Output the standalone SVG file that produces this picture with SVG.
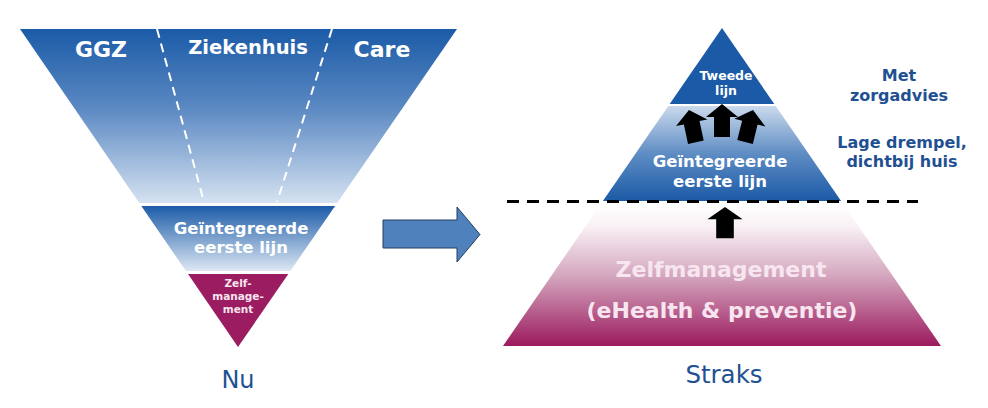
<svg xmlns="http://www.w3.org/2000/svg" width="988" height="408" viewBox="0 0 988 408">
<defs>
<linearGradient id="gUp" x1="0" y1="0" x2="0" y2="1">
<stop offset="0" stop-color="#1b5ba7"/>
<stop offset="0.45" stop-color="#5a88c2"/>
<stop offset="1" stop-color="#d5e2f1"/>
</linearGradient>
<linearGradient id="gMidL" x1="0" y1="0" x2="0" y2="1">
<stop offset="0" stop-color="#1c5ca8"/>
<stop offset="1" stop-color="#dde7f3"/>
</linearGradient>
<linearGradient id="gMidR" x1="0" y1="0" x2="0" y2="1">
<stop offset="0" stop-color="#cbdaec"/>
<stop offset="0.5" stop-color="#5f8dc4"/>
<stop offset="1" stop-color="#1b5aa6"/>
</linearGradient>
<linearGradient id="gBot" x1="0" y1="0" x2="0" y2="1">
<stop offset="0" stop-color="#ffffff"/>
<stop offset="0.15" stop-color="#f8f0f4"/>
<stop offset="0.5" stop-color="#d4a6be"/>
<stop offset="1" stop-color="#9b1a5e"/>
</linearGradient>
<path id="upArrow" d="M0,0 L16,13 L8,13 L8,33 L-8,33 L-8,13 L-16,13 Z"/>
<style>
.b{font-family:"DejaVu Sans",Verdana,sans-serif;font-weight:bold;text-anchor:middle}
.w{fill:#ffffff}
.blue{fill:#1f5192}
.lbl{font-family:"DejaVu Sans",Verdana,sans-serif;text-anchor:middle;fill:#1f5192}
.pk{fill:#f7e6ef}
.ar{fill:#000000}
</style>
</defs>
<rect width="988" height="408" fill="#ffffff"/>

<g id="nu-pyramid">
<g id="nu-top">
<polygon points="20,29 457,29 337.2,203 139.3,203" fill="url(#gUp)"/>
<line x1="157" y1="29" x2="204" y2="202" stroke="#ffffff" stroke-width="2" stroke-dasharray="9,6"/>
<line x1="332" y1="29" x2="277" y2="202" stroke="#ffffff" stroke-width="2" stroke-dasharray="9,6"/>
<text class="b w" x="101" y="57" font-size="22">GGZ</text>
<text class="b w" x="248" y="54" font-size="19.5">Ziekenhuis</text>
<text class="b w" x="382" y="57" font-size="22">Care</text>
</g>
<g id="nu-eerste-lijn">
<polygon points="141.3,206 335.1,206 290.3,271 185.9,271" fill="url(#gMidL)"/>
<text class="b w" x="241" y="234" font-size="16.5">Geïntegreerde</text>
<text class="b w" x="241" y="253" font-size="16.5">eerste lijn</text>
</g>
<g id="nu-zelfmanagement">
<polygon points="188,274 288.3,274 238,347" fill="#9c1c62"/>
<text class="b pk" x="238" y="287" font-size="10.5">Zelf-</text>
<text class="b pk" x="238" y="300" font-size="10.5">manage-</text>
<text class="b pk" x="238" y="313" font-size="10.5">ment</text>
</g>
<text id="nu-label" class="lbl" x="238" y="388" font-size="24">Nu</text>
</g>

<g id="transition-arrow">
<polygon points="383,220 457,220 457,207 480,234.5 457,262 457,248 383,248" fill="#4f81bd" stroke="#263f61" stroke-width="1"/>
</g>

<g id="straks-pyramid">
<g id="straks-zelfmanagement">
<polygon points="599.4,206 844.6,206 941,346 503,346" fill="url(#gBot)"/>
<text class="b pk" x="721" y="277" font-size="22">Zelfmanagement</text>
<text class="b pk" x="722" y="318" font-size="22">(eHealth &amp; preventie)</text>
</g>
<g id="straks-eerste-lijn">
<polygon points="668.3,106 775.7,106 841.1,201 602.9,201" fill="url(#gMidR)"/>
<text class="b w" x="720" y="167" font-size="16.5">Geïntegreerde</text>
<text class="b w" x="720" y="187" font-size="16.5">eerste lijn</text>
</g>
<g id="straks-tweede-lijn">
<polygon points="722,28 774.3,104 669.7,104" fill="#1b5aa6"/>
<text class="b w" x="726" y="80" font-size="12.5">Tweede</text>
<text class="b w" x="726" y="95" font-size="12.5">lijn</text>
</g>
<text id="straks-label" class="lbl" x="724" y="383" font-size="24.5">Straks</text>
</g>

<g id="side-labels">
<text class="b blue" x="899" y="81" font-size="16">Met</text>
<text class="b blue" x="899" y="101" font-size="16">zorgadvies</text>
<text class="b blue" x="902" y="148" font-size="16">Lage drempel,</text>
<text class="b blue" x="902" y="167" font-size="16">dichtbij huis</text>
</g>

<g id="connectors">
<line x1="507" y1="201.5" x2="918" y2="201.5" stroke="#000000" stroke-width="3" stroke-dasharray="12,8"/>
<use href="#upArrow" class="ar" transform="translate(722,104)"/>
<use href="#upArrow" class="ar" transform="translate(689,110) rotate(-12)"/>
<use href="#upArrow" class="ar" transform="translate(753,110) rotate(14)"/>
<use href="#upArrow" class="ar" transform="translate(725,207) scale(1.1,0.95)"/>
</g>
</svg>
